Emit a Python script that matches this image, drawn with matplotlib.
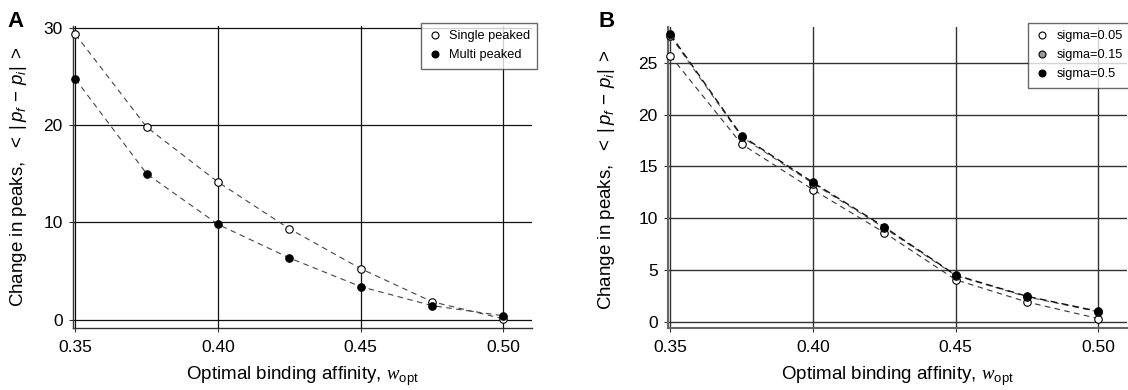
import matplotlib
matplotlib.use("Agg")
import matplotlib.pyplot as plt
from matplotlib.lines import Line2D

plt.rcParams['font.family'] = ['Liberation Sans', 'DejaVu Sans']
plt.rcParams['mathtext.fontset'] = 'custom'
plt.rcParams['mathtext.rm'] = 'Liberation Sans'
plt.rcParams['mathtext.it'] = 'Liberation Sans:italic'
plt.rcParams['mathtext.cal'] = 'Liberation Serif:italic'

# ---------------- data ----------------
w_opt = [0.35, 0.375, 0.40, 0.425, 0.45, 0.475, 0.50]

single_peaked = [29.35, 19.8, 14.15, 9.35, 5.25, 1.85, 0.1]
multi_peaked = [24.75, 15.0, 9.8, 6.35, 3.4, 1.45, 0.4]

sigma_005 = [25.7, 17.15, 12.75, 8.6, 4.05, 1.9, 0.3]
sigma_015 = [27.6, 17.85, 13.35, 9.05, 4.45, 2.4, 0.95]
sigma_05 = [27.75, 17.95, 13.45, 9.15, 4.5, 2.45, 1.0]

x_ticks = [0.35, 0.40, 0.45, 0.50]
x_tick_labels = ['0.35', '0.40', '0.45', '0.50']
yA_ticks = [0, 10, 20, 30]
yB_ticks = [0, 5, 10, 15, 20, 25]

legend_A = ['Single peaked', 'Multi peaked']
legend_B = ['sigma=0.05', 'sigma=0.15', 'sigma=0.5']

ylabel = r'Change in peaks,  $<\;|\,p_f\,-\,p_i|\;>$'
xlabel = r'Optimal binding affinity, $\mathcal{w}_{\mathrm{opt}}$'

# ---------------- figure ----------------
W, H = 1128, 390
fig = plt.figure(figsize=(W / 100, H / 100), dpi=100)

def px_axes(l, t, r, b):
    return fig.add_axes([l / W, 1 - b / H, (r - l) / W, (b - t) / H])

axA = px_axes(72.5, 25.5, 532, 328)
axB = px_axes(667.5, 26.7, 1127, 327.7)

def style(ax, yticks, ylim, spine_col, spine_lw, grid_col, grid_lw):
    ax.set_xlim(0.349, 0.51)
    ax.set_ylim(*ylim)
    ax.set_xticks(x_ticks)
    ax.set_xticklabels(x_tick_labels)
    ax.set_yticks(yticks)
    for s in ['top', 'right']:
        ax.spines[s].set_visible(False)
    for s in ['left', 'bottom']:
        ax.spines[s].set_color(spine_col)
        ax.spines[s].set_linewidth(spine_lw)
    ax.grid(True, color=grid_col, linewidth=grid_lw)
    ax.set_axisbelow(True)
    ax.tick_params(axis='both', length=3, width=0.8, color='#333333',
                   labelsize=12.5, pad=6)
    ax.tick_params(axis='y', pad=4)
    ax.set_xlabel(xlabel, fontsize=13.5, labelpad=7)
    ax.set_ylabel(ylabel, fontsize=13.5)

style(axA, yA_ticks, (-0.85, 30.25), '#333333', 1.0, '#111111', 0.9)
style(axB, yB_ticks, (-0.58, 28.5), '#666666', 1.5, '#333333', 1.0)

axA.yaxis.set_label_coords(-0.095, 0.5)
axB.yaxis.set_label_coords(-0.11, 0.49)

ms = 5.4
mew = 0.8

# Panel A
axA.plot(w_opt, single_peaked, ls=(0, (5, 4)), color='#444444', lw=0.8, zorder=3)
axA.plot(w_opt, multi_peaked, ls=(0, (5, 4)), color='#444444', lw=0.8, zorder=3)
axA.plot(w_opt, single_peaked, 'o', ms=ms, mfc='white', mec='black', mew=mew,
         zorder=4, clip_on=False)
axA.plot(w_opt, multi_peaked, 'o', ms=ms, mfc='black', mec='black', mew=mew,
         zorder=4, clip_on=False)

# Panel B
axB.plot(w_opt, sigma_005, ls=(0, (5, 4)), color='#333333', lw=0.8, zorder=3)
axB.plot(w_opt, sigma_015, ls=(0, (5, 4)), color='#555555', lw=0.8, zorder=3)
axB.plot(w_opt, sigma_05, ls=(0, (5, 3)), color='#111111', lw=1.0, zorder=3)
axB.plot(w_opt, sigma_005, 'o', ms=ms, mfc='white', mec='black', mew=mew,
         zorder=4, clip_on=False)
axB.plot(w_opt, sigma_015, 'o', ms=ms, mfc='#999999', mec='black', mew=mew,
         zorder=5, clip_on=False)
axB.plot(w_opt, sigma_05, 'o', ms=ms, mfc='black', mec='black', mew=mew,
         zorder=6, clip_on=False)

def handle(fc):
    return Line2D([], [], ls='none', marker='o', ms=5, mfc=fc, mec='black', mew=0.8)

legA = fig.legend([handle('white'), handle('black')], legend_A,
                  loc='upper left', bbox_to_anchor=(420.5 / W, 1 - 22.7 / H),
                  fontsize=9.2, frameon=True, fancybox=False, edgecolor='#444444',
                  handlelength=1.0, handletextpad=0.6, borderpad=0.6,
                  labelspacing=0.55, borderaxespad=0)
legA.get_frame().set_linewidth(1.0)

legB = fig.legend([handle('white'), handle('#999999'), handle('black')], legend_B,
                  loc='upper left', bbox_to_anchor=(1028.3 / W, 1 - 22.7 / H),
                  fontsize=9.2, frameon=True, fancybox=False, edgecolor='#444444',
                  handlelength=1.0, handletextpad=0.6, borderpad=0.6,
                  labelspacing=0.55, borderaxespad=0)
legB.get_frame().set_linewidth(1.0)

fig.text(7 / W, 1 - 27 / H, 'A', fontsize=16, fontweight='bold', ha='left', va='baseline')
fig.text(598 / W, 1 - 27 / H, 'B', fontsize=16, fontweight='bold', ha='left', va='baseline')

fig.savefig('out.png', dpi=100)
